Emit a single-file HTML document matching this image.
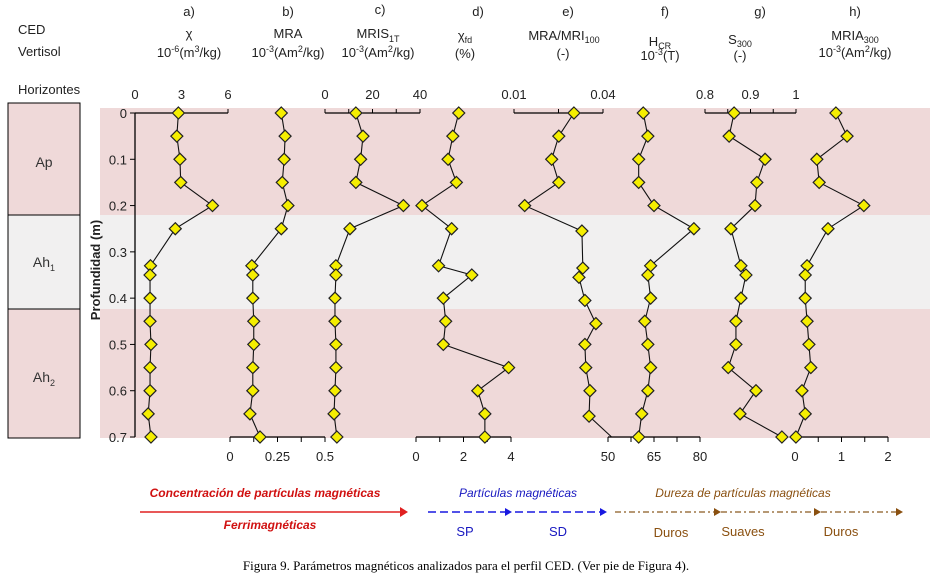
<!DOCTYPE html>
<html><head><meta charset="utf-8"><style>
body{margin:0;background:#fff;}
svg{display:block;font-family:"Liberation Sans",sans-serif;}
</style></head><body>
<svg id="chart" width="930" height="576" viewBox="0 0 930 576">
<g id="bg">
  <rect x="100" y="108" width="830" height="107" fill="#efd9d9"/>
  <rect x="100" y="215" width="830" height="94" fill="#f1f0f0"/>
  <rect x="100" y="309" width="830" height="129" fill="#efd9d9"/>
  <rect x="8" y="103" width="72" height="112" fill="#efd9d9" stroke="#000"/>
  <rect x="8" y="215" width="72" height="94" fill="#f1f0f0" stroke="#000"/>
  <rect x="8" y="309" width="72" height="129" fill="#efd9d9" stroke="#000"/>
  <text x="44" y="167" font-size="14" text-anchor="middle" fill="#333">Ap</text>
  <text x="44" y="267" font-size="14" text-anchor="middle" fill="#333">Ah<tspan font-size="9" dy="4">1</tspan></text>
  <text x="44" y="382" font-size="14" text-anchor="middle" fill="#333">Ah<tspan font-size="9" dy="4">2</tspan></text>
</g>
<g font-size="13" fill="#222" text-anchor="middle">
  <text x="18" y="34" text-anchor="start">CED</text>
  <text x="18" y="56" text-anchor="start">Vertisol</text>
  <text x="18" y="94" text-anchor="start">Horizontes</text>
  <text x="189" y="16">a)</text>
  <text x="189" y="38">χ</text>
  <text x="189" y="57">10<tspan font-size="9" dy="-5">-6</tspan><tspan dy="5">(m</tspan><tspan font-size="9" dy="-5">3</tspan><tspan dy="5">/kg)</tspan></text>
  <text x="288" y="16">b)</text>
  <text x="288" y="38">MRA</text>
  <text x="288" y="57">10<tspan font-size="9" dy="-5">-3</tspan><tspan dy="5">(Am</tspan><tspan font-size="9" dy="-5">2</tspan><tspan dy="5">/kg)</tspan></text>
  <text x="380" y="14">c)</text>
  <text x="378" y="38">MRIS<tspan font-size="9" dy="4">1T</tspan></text>
  <text x="378" y="57">10<tspan font-size="9" dy="-5">-3</tspan><tspan dy="5">(Am</tspan><tspan font-size="9" dy="-5">2</tspan><tspan dy="5">/kg)</tspan></text>
  <text x="478" y="16">d)</text>
  <text x="465" y="40">χ<tspan font-size="9" dy="3">fd</tspan></text>
  <text x="465" y="58">(%)</text>
  <text x="568" y="16">e)</text>
  <text x="564" y="40">MRA/MRI<tspan font-size="9" dy="3">100</tspan></text>
  <text x="563" y="58">(-)</text>
  <text x="665" y="16">f)</text>
  <text x="660" y="46">H<tspan font-size="9" dy="3">CR</tspan></text>
  <text x="660" y="60">10<tspan font-size="9" dy="-5">-3</tspan><tspan dy="5">(T)</tspan></text>
  <text x="760" y="16">g)</text>
  <text x="740" y="44">S<tspan font-size="9" dy="3">300</tspan></text>
  <text x="740" y="60">(-)</text>
  <text x="855" y="16">h)</text>
  <text x="855" y="40">MRIA<tspan font-size="9" dy="3">300</tspan></text>
  <text x="855" y="57">10<tspan font-size="9" dy="-5">-3</tspan><tspan dy="5">(Am</tspan><tspan font-size="9" dy="-5">2</tspan><tspan dy="5">/kg)</tspan></text>
</g>
<g id="axes"></g>
<g id="series"></g>
<g>
  <text x="265" y="497" font-size="12" font-style="italic" font-weight="bold" fill="#d01010" text-anchor="middle">Concentración de partículas magnéticas</text>
  <line x1="140" y1="512" x2="400" y2="512" stroke="#e02020" stroke-width="1.5"/>
  <polygon points="400,507 408,512 400,517" fill="#e02020"/>
  <text x="270" y="529" font-size="12" font-style="italic" font-weight="bold" fill="#d01010" text-anchor="middle">Ferrimagnéticas</text>
  <text x="518" y="497" font-size="12" font-style="italic" fill="#1818c0" text-anchor="middle">Partículas magnéticas</text>
  <line x1="428" y1="512" x2="505" y2="512" stroke="#1818e0" stroke-width="1.5" stroke-dasharray="8,4"/>
  <polygon points="505,508 512,512 505,516" fill="#1818e0"/>
  <line x1="515" y1="512" x2="600" y2="512" stroke="#1818e0" stroke-width="1.5" stroke-dasharray="8,4"/>
  <polygon points="600,508 607,512 600,516" fill="#1818e0"/>
  <text x="465" y="536" font-size="13" fill="#1818c0" text-anchor="middle">SP</text>
  <text x="558" y="536" font-size="13" fill="#1818c0" text-anchor="middle">SD</text>
  <text x="743" y="497" font-size="12" font-style="italic" fill="#8a5010" text-anchor="middle">Dureza de partículas magnéticas</text>
  <line x1="615" y1="512" x2="714" y2="512" stroke="#8a5a20" stroke-width="1.3" stroke-dasharray="6,3,2,3"/>
  <polygon points="714,508 721,512 714,516" fill="#8a5010"/>
  <line x1="721" y1="512" x2="814" y2="512" stroke="#8a5a20" stroke-width="1.3" stroke-dasharray="6,3,2,3"/>
  <polygon points="814,508 821,512 814,516" fill="#8a5010"/>
  <line x1="821" y1="512" x2="896" y2="512" stroke="#8a5a20" stroke-width="1.3" stroke-dasharray="6,3,2,3"/>
  <polygon points="896,508 903,512 896,516" fill="#8a5010"/>
  <text x="671" y="537" font-size="13" fill="#8a5010" text-anchor="middle">Duros</text>
  <text x="743" y="536" font-size="13" fill="#8a5010" text-anchor="middle">Suaves</text>
  <text x="841" y="536" font-size="13" fill="#8a5010" text-anchor="middle">Duros</text>
</g>
<text x="466" y="570" font-size="13" font-family="Liberation Serif, serif" text-anchor="middle" fill="#000">Figura 9. Parámetros magnéticos analizados para el perfil CED. (Ver pie de Figura 4).</text>
</svg>
<script>
const depths = [0, 0.05, 0.1, 0.15, 0.2, 0.25, 0.33, 0.35, 0.4, 0.45, 0.5, 0.55, 0.6, 0.65, 0.7];
const depthsE = [0, 0.05, 0.1, 0.15, 0.2, 0.255, 0.335, 0.355, 0.405, 0.455, 0.5, 0.55, 0.6, 0.655, 0.7];
const depthTicks = [0, 0.1, 0.2, 0.3, 0.4, 0.5, 0.6, 0.7];
const chiVals = [2.8, 2.7, 2.9, 2.95, 5.0, 2.6, 1.0, 0.97, 0.97, 0.97, 1.03, 0.97, 0.97, 0.85, 1.03];
const mraVals = [0.27, 0.29, 0.285, 0.275, 0.305, 0.27, 0.115, 0.12, 0.12, 0.125, 0.125, 0.12, 0.12, 0.105, 0.158];
const mrisVals = [13, 16, 15, 13, 33, 10.5, 4.6, 4.6, 4.2, 4.2, 4.6, 4.6, 4.2, 3.8, 5.0];
const chifdVals = [1.8, 1.55, 1.35, 1.7, 0.25, 1.5, 0.95, 2.35, 1.15, 1.25, 1.15, 3.9, 2.6, 2.9, 2.9];
const ratioVals = [0.0302, 0.0251, 0.0227, 0.0251, 0.0136, 0.0329, 0.0332, 0.0319, 0.0339, 0.0376, 0.0339, 0.0342, 0.0356, 0.0353, 0.0429];
const hcrVals = [61.5, 63, 60, 60, 65, 78, 63.9, 63, 63.9, 62, 63, 63.9, 63, 61, 60];
const s300Vals = [0.864, 0.853, 0.932, 0.914, 0.910, 0.857, 0.879, 0.890, 0.879, 0.868, 0.868, 0.851, 0.912, 0.877, 0.969];
const mriaVals = [0.88, 1.12, 0.47, 0.52, 1.48, 0.71, 0.26, 0.22, 0.22, 0.26, 0.30, 0.34, 0.15, 0.22, 0.02];
const tickA = ["0", "3", "6"];
const tickB = ["0", "0.25", "0.5"];
const tickC = ["0", "20", "40"];
const tickD = ["0", "2", "4"];
const tickE = ["0.01", "0.04"];
const tickF = ["50", "65", "80"];
const tickG = ["0.8", "0.9", "1"];
const tickH = ["0", "1", "2"];

const NS = "http://www.w3.org/2000/svg";
const Y0 = 113, Y1 = 437;
function yScale(d){ return Y0 + (d/0.7)*(Y1-Y0); }
function mk(tag, attrs, parent){ const e=document.createElementNS(NS,tag); for(const k in attrs) e.setAttribute(k,attrs[k]); parent.appendChild(e); return e; }
const axes=document.getElementById('axes'), ser=document.getElementById('series');

// depth axis
let l = mk('line',{x1:135,y1:Y0,x2:135,y2:Y1,stroke:'#000','stroke-width':1.3},axes);
 
depthTicks.forEach(d=>{
  const t=mk('line',{x1:130,y1:yScale(d),x2:135,y2:yScale(d),stroke:'#000'},axes);
   
  const tx=mk('text',{x:127,y:yScale(d)+5,'font-size':13,'text-anchor':'end',fill:'#222'},axes);
  tx.textContent=String(d);
   
});
const yt=mk('text',{x:0,y:0,'font-size':13,'font-weight':'bold','text-anchor':'middle',fill:'#222',transform:'translate(100,270) rotate(-90)'},axes);
yt.textContent='Profundidad (m)';
 

const panels = [
  {name:'a', vals:chiVals, dep:depths, min:0, max:6, x0:135, x1:228, top:true, ticks:tickA, tv:[0,3,6], minor:[6]},
  {name:'b', vals:mraVals, dep:depths, min:0, max:0.5, x0:230, x1:325, top:false, ticks:tickB, tv:[0,0.25,0.5], minor:[0,0.125,0.25,0.375,0.5]},
  {name:'c', vals:mrisVals, dep:depths, min:0, max:40, x0:325, x1:420, top:true, ticks:tickC, tv:[0,20,40], minor:[0,10,20,30,40]},
  {name:'d', vals:chifdVals, dep:depths, min:0, max:4, x0:416, x1:511, top:false, ticks:tickD, tv:[0,2,4], minor:[0,1,2,3,4]},
  {name:'e', vals:ratioVals, dep:depthsE, min:0.01, max:0.04, x0:514, x1:603, top:true, ticks:tickE, tv:[0.01,0.04], minor:[0.01,0.025,0.04]},
  {name:'f', vals:hcrVals, dep:depths, min:50, max:80, x0:608, x1:700, top:false, ticks:tickF, tv:[50,65,80], minor:[50,57.5,65,72.5,80]},
  {name:'g', vals:s300Vals, dep:depths, min:0.8, max:1, x0:705, x1:796, top:true, ticks:tickG, tv:[0.8,0.9,1], minor:[0.8,0.85,0.9,0.95,1]},
  {name:'h', vals:mriaVals, dep:depths, min:0, max:2, x0:795, x1:888, top:false, ticks:tickH, tv:[0,1,2], minor:[0,0.5,1,1.5,2]}
];
panels.forEach(p=>{
  const xs=v=>p.x0+(v-p.min)/(p.max-p.min)*(p.x1-p.x0);
  const ay=p.top?Y0:Y1;
  const ax=mk('line',{x1:p.x0,y1:ay,x2:p.x1,y2:ay,stroke:'#000','stroke-width':1.3},axes);
   
  p.minor.forEach(v=>{
    const t=mk('line',{x1:xs(v),y1:ay,x2:xs(v),y2:p.top?ay-5:ay+5,stroke:'#000'},axes);
    if(p.top) { t.setAttribute('y2', ay-4); }
     
  });
  p.tv.forEach((v,i)=>{
    const tx=mk('text',{x:xs(v),y:p.top?99:461,'font-size':13,'text-anchor':'middle',fill:'#222'},axes);
    tx.textContent=p.ticks[i];
     
  });
  const pts=p.vals.map((v,i)=>[xs(v),yScale(p.dep[i])]);
  const pl=mk('polyline',{points:pts.map(q=>q.join(',')).join(' '),fill:'none',stroke:'#111','stroke-width':1.1},ser);
   
  pts.forEach((q,i)=>{
    if(p.name==='e' && i===pts.length-1) return;
    const m=mk('polygon',{points:`${q[0]},${q[1]-6} ${q[0]+6},${q[1]} ${q[0]},${q[1]+6} ${q[0]-6},${q[1]}`,fill:'#f5ee00',stroke:'#222','stroke-width':1.2},ser);
     
  });
});
</script>
</body></html>
